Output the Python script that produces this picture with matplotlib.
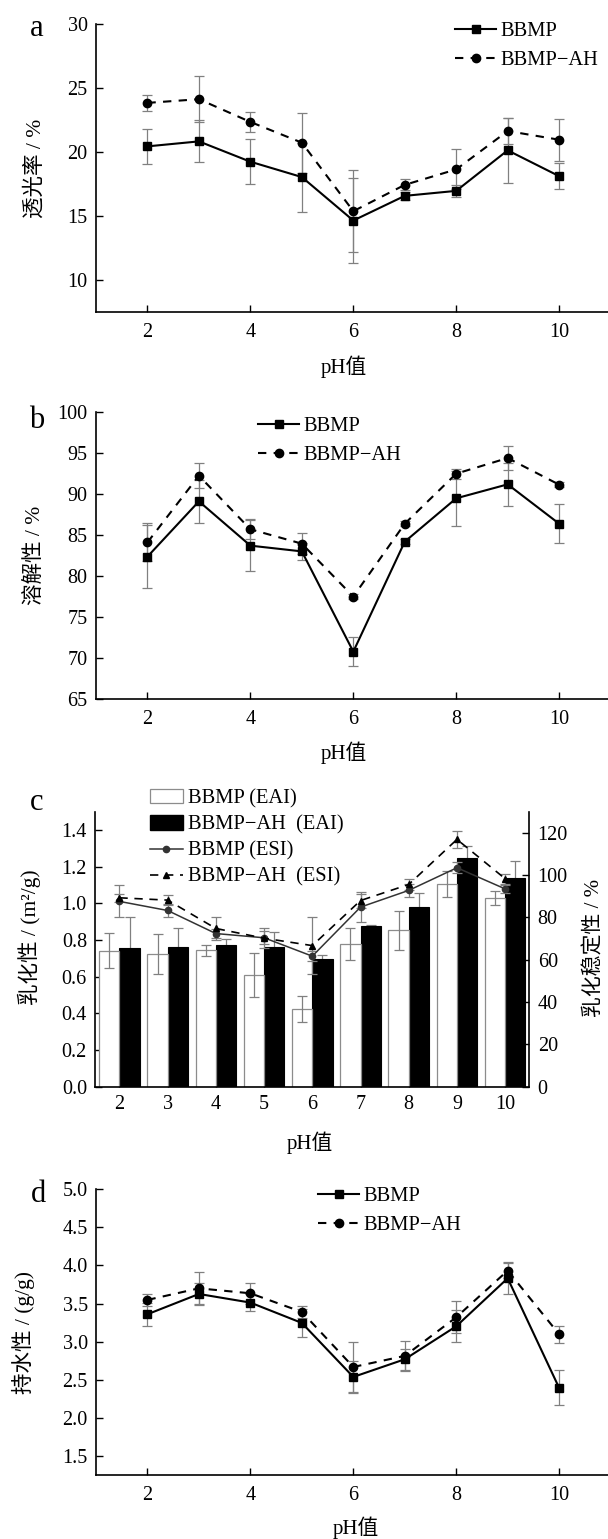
import numpy as np
import matplotlib
matplotlib.use('Agg')
import matplotlib.pyplot as plt
from matplotlib.patches import Patch
from matplotlib.lines import Line2D

plt.rcParams['font.family'] = ['Liberation Serif', 'Noto Sans CJK SC']
plt.rcParams['font.size'] = 14.5
plt.rcParams['axes.unicode_minus'] = False

ph = [2, 3, 4, 5, 6, 7, 8, 9, 10]
ph_labels = ['2', '3', '4', '5', '6', '7', '8', '9', '10']

# a: light transmittance (%)
trans_bbmp = [20.43, 20.82, 19.23, 18.03, 14.63, 16.56, 16.95, 20.12, 18.10]
trans_bbmp_err = [1.35, 1.65, 1.75, 2.70, 3.34, 0.30, 0.47, 2.56, 1.04]
trans_ah = [23.83, 24.12, 22.34, 20.72, 15.36, 17.42, 18.63, 21.63, 20.95]
trans_ah_err = [0.65, 1.78, 0.75, 2.35, 3.19, 0.42, 1.57, 1.05, 1.65]

# b: solubility (%)
sol_bbmp = [82.36, 89.09, 83.70, 83.00, 70.80, 84.18, 89.46, 91.16, 86.37]
sol_bbmp_err = [3.80, 2.63, 3.10, 1.05, 1.75, 0.30, 3.37, 2.60, 2.35]
sol_ah = [84.10, 92.21, 85.69, 83.94, 77.50, 86.37, 92.46, 94.36, 91.12]
sol_ah_err = [2.30, 1.50, 1.20, 1.25, 0.30, 0.30, 0.60, 1.46, 0.30]

# c: EAI (m2/g) and ESI (%)
eai_bbmp = [0.742, 0.724, 0.744, 0.607, 0.425, 0.780, 0.853, 1.105, 1.029]
eai_bbmp_err = [0.095, 0.110, 0.030, 0.120, 0.070, 0.087, 0.107, 0.070, 0.038]
eai_ah = [0.758, 0.764, 0.775, 0.764, 0.698, 0.878, 0.982, 1.245, 1.140]
eai_ah_err = [0.166, 0.100, 0.030, 0.080, 0.020, 0.003, 0.073, 0.070, 0.090]
esi_bbmp = [87.6, 83.3, 72.4, 70.4, 61.7, 84.9, 92.8, 103.5, 93.5]
esi_bbmp_err = [7.6, 3.0, 2.3, 3.0, 2.5, 7.0, 3.0, 2.5, 2.0]
esi_ah = [89.3, 88.2, 74.8, 70.2, 66.7, 88.0, 95.6, 116.9, 98.3]
esi_ah_err = [2.0, 2.3, 5.4, 4.6, 13.4, 3.3, 2.8, 4.0, 2.3]

# d: water holding capacity (g/g)
whc_bbmp = [3.360, 3.626, 3.513, 3.246, 2.537, 2.769, 3.202, 3.832, 2.393]
whc_bbmp_err = [0.15, 0.15, 0.11, 0.18, 0.21, 0.14, 0.21, 0.21, 0.23]
whc_ah = [3.548, 3.700, 3.635, 3.390, 2.668, 2.813, 3.320, 3.933, 3.097]
whc_ah_err = [0.075, 0.21, 0.135, 0.075, 0.33, 0.20, 0.21, 0.10, 0.11]

W, H = 608, 1539
fig = plt.figure(figsize=(W / 100, H / 100), dpi=100)

TICK_FS = 14.5
LEG_FS = 14.8
LAB_FS = 15.5


def px_box(left, top, right, bottom):
    return [left / W, 1 - bottom / H, (right - left) / W, (bottom - top) / H]


def style_axes(ax):
    for s in ['top', 'right']:
        ax.spines[s].set_visible(False)
    for s in ['left', 'bottom']:
        ax.spines[s].set_linewidth(1.2)
    ax.tick_params(direction='in', length=5, width=1.0, labelsize=TICK_FS)
    ax.tick_params(axis='y', pad=6)
    ax.tick_params(axis='x', pad=8)


ERR = dict(fmt='none', ecolor='#808080', elinewidth=0.9, capsize=3.5, capthick=0.9)
DASH = (0, (4, 3.5))


def line_panel(ax, y1, e1, y2, e2, ylim, yticks, legend_xy):
    ax.errorbar(ph, y1, yerr=e1, zorder=2, **ERR)
    ax.errorbar(ph, y2, yerr=e2, zorder=2, **ERR)
    ax.plot(ph, y1, color='black', lw=1.5, marker='s', ms=6, label='BBMP', zorder=3)
    ax.plot(ph, y2, color='black', lw=1.5, ls=DASH, marker='o', ms=6,
            label='BBMP−AH', zorder=3)
    ax.set_xlim(1, 11)
    ax.set_ylim(*ylim)
    ax.set_xticks([2, 4, 6, 8, 10])
    ax.set_yticks(yticks)
    style_axes(ax)
    ax.legend(loc='upper left', bbox_to_anchor=(legend_xy[0] / W, 1 - legend_xy[1] / H),
              bbox_transform=fig.transFigure, frameon=False, fontsize=LEG_FS,
              handlelength=2.0, handletextpad=0.2, labelspacing=0.45, borderpad=0,
              borderaxespad=0)


# panel a
ax_a = fig.add_axes(px_box(96, 24, 610.6, 311.7))
line_panel(ax_a, trans_bbmp, trans_bbmp_err, trans_ah, trans_ah_err,
           (7.5, 30), [10, 15, 20, 25, 30], (455, 22))

# panel b
ax_b = fig.add_axes(px_box(96, 411.7, 610.6, 699.3))
line_panel(ax_b, sol_bbmp, sol_bbmp_err, sol_ah, sol_ah_err,
           (65, 100), [65, 70, 75, 80, 85, 90, 95, 100], (258, 417))

# panel c
ax_c = fig.add_axes(px_box(95.3, 811.7, 529.3, 1086.7))
x = np.arange(len(ph))
bw = 0.42
ax_c.bar(x + bw / 2, eai_ah, bw, color='black', edgecolor='black', lw=0.8, zorder=2)
ax_c.errorbar(x + bw / 2, eai_ah, yerr=eai_ah_err, zorder=1.5, **ERR)
ax_c.bar(x - bw / 2, eai_bbmp, bw, color='white', edgecolor='#8c8c8c', lw=0.9, zorder=2)
ax_c.errorbar(x - bw / 2, eai_bbmp, yerr=eai_bbmp_err, zorder=2.2, **ERR)
ax_c.set_xlim(-0.5, 8.5)
ax_c.set_ylim(0, 1.5)
ax_c.set_xticks(x)
ax_c.set_xticklabels(ph_labels)
ax_c.set_yticks(np.arange(0, 1.41, 0.2))
ax_c.set_yticklabels([f'{v:.1f}' for v in np.arange(0, 1.41, 0.2)])
style_axes(ax_c)
ax_c.tick_params(axis='x', pad=6)

ax_c2 = ax_c.twinx()
ax_c2.errorbar(x, esi_bbmp, yerr=esi_bbmp_err, zorder=3, **ERR)
ax_c2.errorbar(x, esi_ah, yerr=esi_ah_err, zorder=3, **ERR)
ax_c2.plot(x, esi_bbmp, color='#333333', lw=1.1, marker='o', ms=4.5, zorder=4)
ax_c2.plot(x, esi_ah, color='black', lw=1.2, ls=(0, (5, 4)), marker='^', ms=4, zorder=4)
ax_c2.set_ylim(0, 130)
ax_c2.set_yticks([0, 20, 40, 60, 80, 100, 120])
ax_c2.spines['top'].set_visible(False)
ax_c2.spines['left'].set_visible(False)
ax_c2.spines['bottom'].set_visible(False)
ax_c2.spines['right'].set_linewidth(1.2)
ax_c2.tick_params(direction='in', length=5, width=1.0, labelsize=TICK_FS, pad=6)

handles_c = [
    Patch(facecolor='white', edgecolor='#8c8c8c', lw=0.9),
    Patch(facecolor='black', edgecolor='black'),
    Line2D([], [], color='#333333', lw=1.1, marker='o', ms=4.5),
    Line2D([], [], color='black', lw=1.2, ls=(0, (5, 4)), marker='^', ms=4),
]
labels_c = ['BBMP (EAI)', 'BBMP−AH  (EAI)', 'BBMP (ESI)', 'BBMP−AH  (ESI)']
ax_c2.legend(handles_c, labels_c, loc='upper left',
             bbox_to_anchor=(150 / W, 1 - 789 / H), bbox_transform=fig.transFigure,
             frameon=False, fontsize=LEG_FS, handlelength=1.6, handleheight=0.7,
             handletextpad=0.25, labelspacing=0.33, borderpad=0, borderaxespad=0)

# panel d
ax_d = fig.add_axes(px_box(96, 1189.3, 610.6, 1475))
line_panel(ax_d, whc_bbmp, whc_bbmp_err, whc_ah, whc_ah_err,
           (1.25, 5.0), [1.5, 2.0, 2.5, 3.0, 3.5, 4.0, 4.5, 5.0], (318, 1187))
ax_d.set_yticklabels([f'{v:.1f}' for v in [1.5, 2.0, 2.5, 3.0, 3.5, 4.0, 4.5, 5.0]])


def ftext(xp, yp, s, **kw):
    fig.text(xp / W, 1 - yp / H, s, ha='center', va='center', **kw)


# panel letters
for letter, (xp, yp) in zip('abcd', [(37, 29), (37, 421), (37, 802), (39, 1195)]):
    ftext(xp, yp, letter, fontsize=22)

# axis labels
for xp, yp in [(344, 367), (344, 753), (310, 1143), (356, 1528)]:
    ftext(xp, yp, 'pH值', fontsize=15)
ftext(35, 168, '透光率 / %', rotation=90, fontsize=LAB_FS)
ftext(35, 555, '溶解性 / %', rotation=90, fontsize=LAB_FS)
ftext(29, 937, '乳化性 / (m²/g)', rotation=90, fontsize=LAB_FS)
ftext(595, 948, '乳化稳定性 / %', rotation=90, fontsize=15)
ftext(23, 1332, '持水性 / (g/g)', rotation=90, fontsize=LAB_FS)

fig.savefig('out.png', dpi=100)
